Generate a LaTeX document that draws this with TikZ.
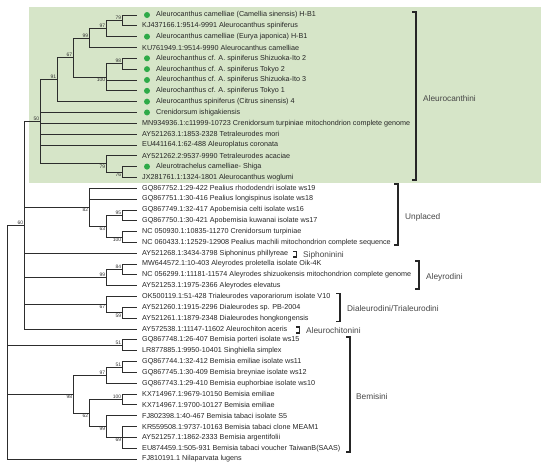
\documentclass[tikz,border=0pt]{standalone}
\usepackage{fontspec}
\setmainfont{Liberation Sans}
\definecolor{boxgreen}{RGB}{214,229,200}
\definecolor{dotgreen}{RGB}{46,170,72}
\definecolor{linecol}{RGB}{45,45,45}
\definecolor{cladecol}{RGB}{70,70,70}
\tikzset{
  br/.style={draw=linecol,line width=0.85pt},
  leaf/.style={anchor=west,inner sep=0pt,font=\fontsize{7.2}{8}\selectfont,text=black!85},
  gdot/.style={circle,fill=dotgreen,inner sep=0pt,minimum size=6pt},
  bsa/.style={anchor=south east,inner sep=0.6pt,font=\fontsize{5}{6}\selectfont,text=black!80},
  bsb/.style={anchor=north east,inner sep=0.6pt,font=\fontsize{5}{6}\selectfont,text=black!80},
  brk/.style={draw=black!85,line width=1.3pt},
  clade/.style={anchor=west,inner sep=0pt,font=\fontsize{8.3}{10}\selectfont,text=cladecol}
}
\begin{document}
\begin{tikzpicture}[x=1pt,y=-1pt]
\useasboundingbox (0,0) rectangle (550,469);
\fill[boxgreen] (29,7) rectangle (541,183);
% leaf tips
\foreach \i/\y in {1/15.0,2/25.83,3/36.66,4/47.49,5/58.32,6/69.15,7/79.98,8/90.81,9/101.64,10/112.47,11/123.3,12/134.13,13/144.96,14/155.79,15/166.62,16/177.45,17/188.28,18/199.11,19/209.94,20/220.77,21/231.6,22/242.43,23/253.26,24/264.09,25/274.92,26/285.75,27/296.58,28/307.41,29/318.24,30/329.07,31/339.9,32/350.73,33/361.56,34/372.39,35/383.22,36/394.05,37/404.88,38/415.71,39/426.54,40/437.37,41/448.2,42/459.03}
  \coordinate (L\i) at (137,\y);
% inner nodes
\coordinate (n79a) at (122,20.4);
\coordinate (n97a) at (106,28.5);
\coordinate (n99a) at (89,38.0);
\coordinate (n98a) at (122,63.7);
\coordinate (n100a) at (106,77.4);
\coordinate (n67a) at (73,57.7);
\coordinate (n91) at (57,79.7);
\coordinate (n76) at (122,172.0);
\coordinate (n79b) at (106,163.9);
\coordinate (n50) at (40,121.8);
\coordinate (n95) at (122,215.4);
\coordinate (n100b) at (122,237.0);
\coordinate (n63) at (106,226.2);
\coordinate (n82) at (89,207.2);
\coordinate (n84) at (122,269.5);
\coordinate (n99b) at (106,277.6);
\coordinate (n59) at (122,312.8);
\coordinate (n67b) at (106,304.7);
\coordinate (n60) at (24,225.4);
\coordinate (n51a) at (122,345.3);
\coordinate (n51b) at (122,367.0);
\coordinate (n97b) at (106,375.1);
\coordinate (n100c) at (122,399.5);
\coordinate (n69) at (122,437.4);
\coordinate (n99c) at (106,426.6);
\coordinate (n62) at (89,413.0);
\coordinate (n98b) at (73,394.1);
\coordinate (root) at (7,342.2);
% branches
\foreach \p/\c in {n79a/L1,n79a/L2,n97a/n79a,n97a/L3,n99a/n97a,n99a/L4,n98a/L5,n98a/L6,
  n100a/n98a,n100a/L7,n100a/L8,n67a/n99a,n67a/n100a,n91/n67a,n91/L9,n76/L15,n76/L16,
  n79b/L14,n79b/n76,n50/n91,n50/L10,n50/L11,n50/L12,n50/L13,n50/n79b,n95/L19,n95/L20,
  n100b/L21,n100b/L22,n63/n95,n63/n100b,n82/L17,n82/L18,n82/n63,n84/L24,n84/L25,
  n99b/n84,n99b/L26,n59/L28,n59/L29,n67b/L27,n67b/n59,n60/n50,n60/n82,n60/L23,
  n60/n99b,n60/n67b,n60/L30,n51a/L31,n51a/L32,n51b/L33,n51b/L34,n97b/n51b,n97b/L35,
  n100c/L36,n100c/L37,n69/L39,n69/L40,n69/L41,n99c/L38,n99c/n69,n62/n100c,n62/n99c,
  n98b/n97b,n98b/n62,root/n60,root/n51a,root/n98b,root/L42}
  \draw[br] (\p) |- (\c);
% bootstrap values
\node[bsa] (b1) at (n79a) {79};
\node[bsa] (b2) at (n97a) {97};
\node[bsa] (b3) at (n99a) {99};
\node[bsa] (b4) at (n67a) {67};
\node[bsa] (b5) at (n91) {91};
\node[bsa] (b6) at (n98a) {98};
\node[bsb] (b7) at (n100a) {100};
\node[bsa] (b8) at (n50) {50};
\node[bsb] (b9) at (n79b) {79};
\node[bsb] (b10) at (n76) {76};
\node[bsb] (b11) at (n82) {82};
\node[bsa] (b12) at (n95) {95};
\node[bsb] (b13) at (n63) {63};
\node[bsb] (b14) at (n100b) {100};
\node[bsa] (b15) at (n60) {60};
\node[bsa] (b16) at (n84) {84};
\node[bsa] (b17) at (n99b) {99};
\node[bsb] (b18) at (n67b) {67};
\node[bsb] (b19) at (n59) {59};
\node[bsa] (b20) at (n51a) {51};
\node[bsa] (b21) at (n51b) {51};
\node[bsa] (b22) at (n97b) {97};
\node[bsb] (b23) at (n98b) {98};
\node[bsa] (b24) at (n100c) {100};
\node[bsb] (b25) at (n62) {62};
\node[bsb] (b26) at (n99c) {99};
\node[bsb] (b27) at (n69) {69};
% green dots
\foreach \i in {1,3,5,6,7,8,9,10,15}
  \node[gdot] (d\i) at ([xshift=10pt]L\i) {};
% leaf labels
\node[leaf] (t1) at (156,15.0) {Aleurocanthus camelliae (Camellia sinensis) H-B1};
\node[leaf] (t2) at (142,25.83) {KJ437166.1:9514-9991 Aleurocanthus spiniferus};
\node[leaf] (t3) at (156,36.66) {Aleurocanthus camelliae (Eurya japonica) H-B1};
\node[leaf] (t4) at (142,47.49) {KU761949.1:9514-9990 Aleurocanthus camelliae};
\node[leaf] (t5) at (156,58.32) {Aleurochanthus cf. A. spiniferus Shizuoka-Ito 2};
\node[leaf] (t6) at (156,69.15) {Aleurochanthus cf. A. spiniferus Tokyo 2};
\node[leaf] (t7) at (156,79.98) {Aleurochanthus cf. A. spiniferus Shizuoka-Ito 3};
\node[leaf] (t8) at (156,90.81) {Aleurochanthus cf. A. spiniferus Tokyo 1};
\node[leaf] (t9) at (156,101.64) {Aleurocanthus spiniferus (Citrus sinensis) 4};
\node[leaf] (t10) at (156,112.47) {Crenidorsum ishigakiensis};
\node[leaf] (t11) at (142,123.3) {MN934936.1:c11999-10723 Crenidorsum turpiniae mitochondrion complete genome};
\node[leaf] (t12) at (142,134.13) {AY521263.1:1853-2328 Tetraleurodes mori};
\node[leaf] (t13) at (142,144.96) {EU441164.1:62-488 Aleuroplatus coronata};
\node[leaf] (t14) at (142,155.79) {AY521262.2:9537-9990 Tetraleurodes acaciae};
\node[leaf] (t15) at (156,166.62) {Aleurotrachelus camelliae- Shiga};
\node[leaf] (t16) at (142,177.45) {JX281761.1:1324-1801 Aleurocanthus woglumi};
\node[leaf] (t17) at (142,188.28) {GQ867752.1:29-422 Pealius rhododendri isolate ws19};
\node[leaf] (t18) at (142,199.11) {GQ867751.1:30-416 Pealius longispinus isolate ws18};
\node[leaf] (t19) at (142,209.94) {GQ867749.1:32-417 Apobemisia celti isolate ws16};
\node[leaf] (t20) at (142,220.77) {GQ867750.1:30-421 Apobemisia kuwanai isolate ws17};
\node[leaf] (t21) at (142,231.6) {NC 050930.1:10835-11270 Crenidorsum turpiniae};
\node[leaf] (t22) at (142,242.43) {NC 060433.1:12529-12908 Pealius machili mitochondrion complete sequence};
\node[leaf] (t23) at (142,253.26) {AY521268.1:3434-3798 Siphoninus phillyreae};
\node[leaf] (t24) at (142,264.09) {MW644572.1:10-403 Aleyrodes proletella isolate Oik-4K};
\node[leaf] (t25) at (142,274.92) {NC 056299.1:11181-11574 Aleyrodes shizuokensis mitochondrion complete genome};
\node[leaf] (t26) at (142,285.75) {AY521253.1:1975-2366 Aleyrodes elevatus};
\node[leaf] (t27) at (142,296.58) {OK500119.1:51-428 Trialeurodes vaporariorum isolate V10};
\node[leaf] (t28) at (142,307.41) {AY521260.1:1915-2296 Dialeurodes sp. PB-2004};
\node[leaf] (t29) at (142,318.24) {AY521261.1:1879-2348 Dialeurodes hongkongensis};
\node[leaf] (t30) at (142,329.07) {AY572538.1:11147-11602 Aleurochiton aceris};
\node[leaf] (t31) at (142,339.9) {GQ867748.1:26-407 Bemisia porteri isolate ws15};
\node[leaf] (t32) at (142,350.73) {LR877885.1:9950-10401 Singhiella simplex};
\node[leaf] (t33) at (142,361.56) {GQ867744.1:32-412 Bemisia emiliae isolate ws11};
\node[leaf] (t34) at (142,372.39) {GQ867745.1:30-409 Bemisia breyniae isolate ws12};
\node[leaf] (t35) at (142,383.22) {GQ867743.1:29-410 Bemisia euphorbiae isolate ws10};
\node[leaf] (t36) at (142,394.05) {KX714967.1:9679-10150 Bemisia emiliae};
\node[leaf] (t37) at (142,404.88) {KX714967.1:9700-10127 Bemisia emiliae};
\node[leaf] (t38) at (142,415.71) {FJ802398.1:40-467 Bemisia tabaci isolate S5};
\node[leaf] (t39) at (142,426.54) {KR559508.1:9737-10163 Bemisia tabaci clone MEAM1};
\node[leaf] (t40) at (142,437.37) {AY521257.1:1862-2333 Bemisia argentifolii};
\node[leaf] (t41) at (142,448.2) {EU874459.1:505-931 Bemisia tabaci voucher TaiwanB(SAAS)};
\node[leaf] (t42) at (142,459.03) {FJ810191.1 Nilaparvata lugens};
% clade brackets
\draw[brk] (412,12) -- (416,12) -- (416,180) -- (412,180);
\node[clade] (c1) at (423,99) {Aleurocanthini};
\draw[brk] (394,184) -- (398,184) -- (398,245) -- (394,245);
\node[clade] (c2) at (405,217) {Unplaced};
\draw[brk] (293,251.5) -- (296.5,251.5) -- (296.5,257) -- (293,257);
\node[clade] (c3) at (303,255) {Siphoninini};
\draw[brk] (415,261) -- (419,261) -- (419,289) -- (415,289);
\node[clade] (c4) at (426,277) {Aleyrodini};
\draw[brk] (336,293.5) -- (340,293.5) -- (340,321.5) -- (336,321.5);
\node[clade] (c5) at (347,309) {Dialeurodini/Trialeurodini};
\draw[brk] (296,327) -- (299.5,327) -- (299.5,333) -- (296,333);
\node[clade] (c6) at (306,331) {Aleurochitonini};
\draw[brk] (346,337) -- (350,337) -- (350,452) -- (346,452);
\node[clade] (c7) at (356,397) {Bemisini};
\end{tikzpicture}
\end{document}
